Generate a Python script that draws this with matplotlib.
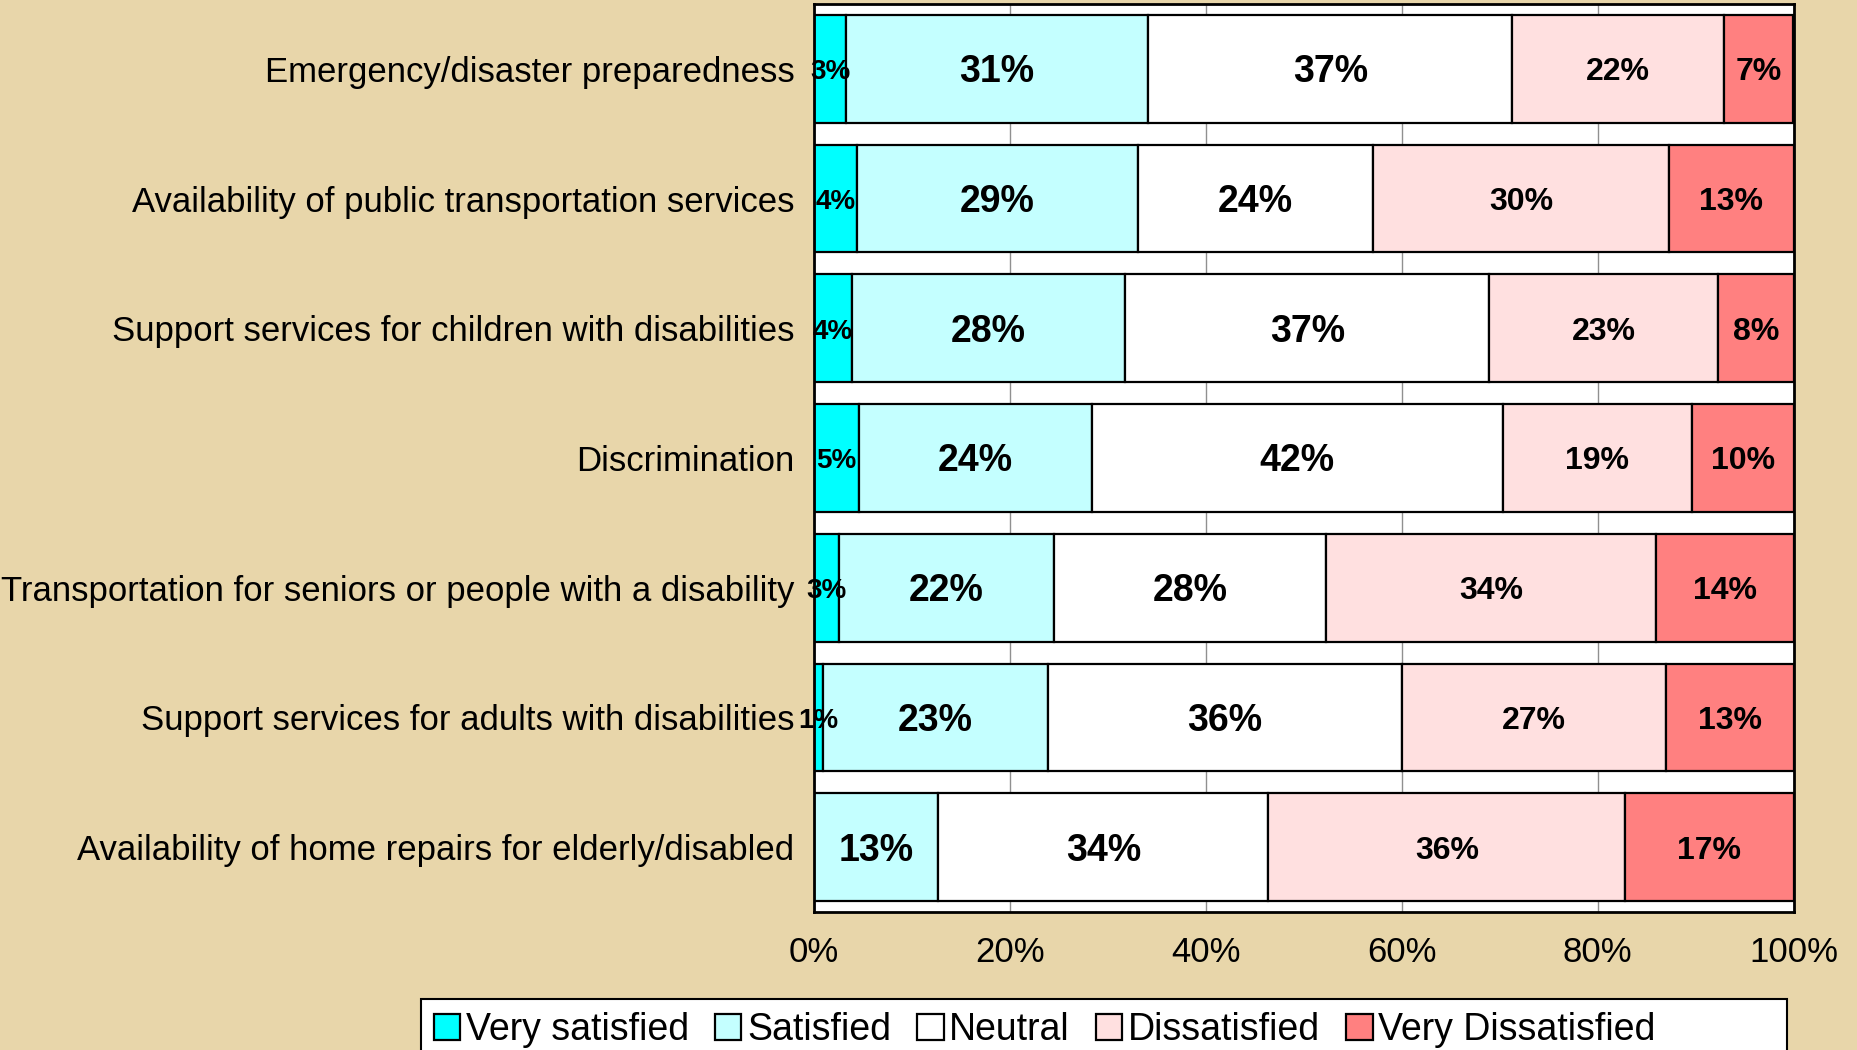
import numpy as np
import matplotlib
matplotlib.use("Agg")
import matplotlib.pyplot as plt
from matplotlib.patches import Rectangle

plt.rcParams['font.family'] = ['Liberation Sans', 'DejaVu Sans']

categories = [
    "Emergency/disaster preparedness",
    "Availability of public transportation services",
    "Support services for children with disabilities",
    "Discrimination",
    "Transportation for seniors or people with a disability",
    "Support services for adults with disabilities",
    "Availability of home repairs for elderly/disabled",
]
series = ["Very satisfied", "Satisfied", "Neutral", "Dissatisfied", "Very Dissatisfied"]

very_satisfied = [3.3, 4.4, 3.9, 4.6, 2.6, 0.9, 0.0]
satisfied = [30.8, 28.7, 27.9, 23.8, 21.9, 23.0, 12.7]
neutral = [37.2, 24.0, 37.1, 41.9, 27.8, 36.1, 33.7]
dissatisfied = [21.6, 30.2, 23.4, 19.3, 33.6, 27.0, 36.4]
very_dissatisfied = [7.0, 12.7, 7.7, 10.4, 14.1, 13.0, 17.2]

xticks = [0, 20, 40, 60, 80, 100]

colors = ["#00FFFF", "#C4FFFF", "#FFFFFF", "#FFE0E0", "#FF8080"]
label_sizes = [20, 27, 27, 23, 23]

fig = plt.figure(figsize=(18.58, 10.5), dpi=100)
fig.patch.set_facecolor("#E8D6AA")
ax = fig.add_axes([0.438, 0.1314, 0.5274, 0.8648])
ax.set_facecolor("white")

y = np.arange(len(categories))
left = np.zeros(len(categories))
data = [very_satisfied, satisfied, neutral, dissatisfied, very_dissatisfied]
for name, vals, col, fs in zip(series, data, colors, label_sizes):
    vals = np.array(vals)
    bars = ax.barh(y, vals, left=left, height=0.83, color=col, edgecolor="black",
                   linewidth=1.6, label=name, zorder=2)
    for b, v in zip(bars, vals):
        if v <= 0:
            continue
        ax.annotate(f"{v:.0f}%", (b.get_x() + b.get_width() / 2, b.get_y() + b.get_height() / 2),
                    xytext=(0, -2.5), textcoords="offset points",
                    ha="center", va="center", fontsize=fs,
                    fontweight="bold", zorder=3)
    left += vals

ax.set_xlim(0, 100)
ax.set_ylim(6.5, -0.5)
ax.set_xticks(xticks)
ax.set_xticklabels([f"{t}%" for t in xticks], fontsize=25)
ax.set_yticks(y)
ax.set_yticklabels(categories, fontsize=25)
ax.tick_params(axis="y", length=0, pad=14)
ax.tick_params(axis="x", length=0, pad=17)
ax.grid(axis="x", color="#909090", linewidth=1, zorder=0)
for s in ax.spines.values():
    s.set_linewidth(2)
    s.set_color("black")

# legend box is wider than its entries in the original
fig.patches.append(Rectangle((0.2266, -0.02), 0.735, 0.0686, transform=fig.transFigure,
                             facecolor="white", edgecolor="black", linewidth=1.5))
leg = fig.legend(loc="center left", bbox_to_anchor=(0.2275, 0.019), ncol=5,
                 fontsize=27, frameon=False,
                 handlelength=0.7, handleheight=0.7, handletextpad=0.15,
                 columnspacing=0.7, borderaxespad=0, borderpad=0.3)

fig.savefig("out.png", dpi=100, facecolor=fig.get_facecolor())
